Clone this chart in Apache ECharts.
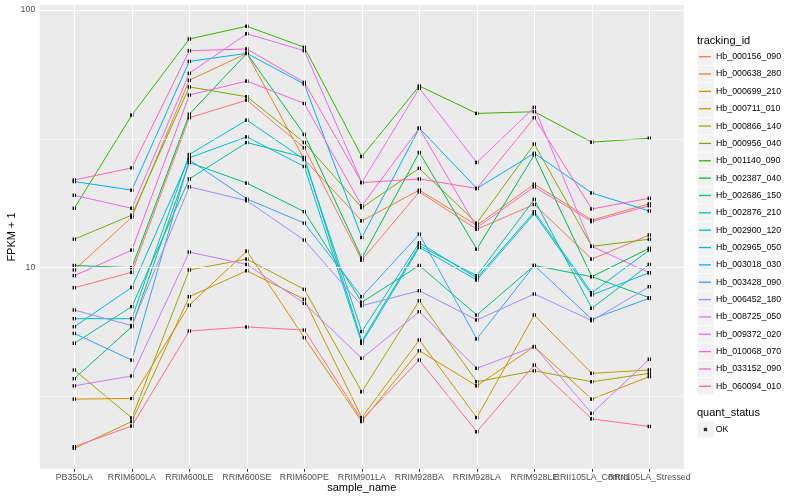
<!DOCTYPE html>
<html>
<head>
<meta charset="utf-8">
<script src="https://cdn.jsdelivr.net/npm/echarts@6/dist/echarts.min.js"></script>
<style>html,body{margin:0;padding:0;background:#fff}#c{width:800px;height:500px}</style>
</head>
<body>
<div id="c"></div>
<script>
const categories = ["PB350LA","RRIM600LA","RRIM600LE","RRIM600SE","RRIM600PE","RRIM901LA","RRIM928BA","RRIM928LA","RRIM928LE","RRII105LA_Control","RRII105LA_Stressed"];
const trackingIds = ["Hb_000156_090","Hb_000638_280","Hb_000699_210","Hb_000711_010","Hb_000866_140","Hb_000956_040","Hb_001140_090","Hb_002387_040","Hb_002686_150","Hb_002876_210","Hb_002900_120","Hb_002965_050","Hb_003018_030","Hb_003428_090","Hb_006452_180","Hb_008725_050","Hb_009372_020","Hb_010068_070","Hb_033152_090","Hb_060094_010"];
const colors = ["#F8766D","#EA8331","#D89000","#C09B00","#A3A500","#7CAE00","#39B600","#00BB4E","#00BF7D","#00C1A3","#00BFC4","#00BAE0","#00B0F6","#35A2FF","#9590FF","#C77CFF","#E76BF3","#FA62DB","#FF62BC","#FF6C91"];

const Hb_000156_090 = [8.36, 9.60, 38.2, 44.7, 29.2, 10.7, 19.7, 14.1, 17.6, 10.8, 13.4];
const Hb_000638_280 = [9.80, 15.7, 53.4, 67.9, 26.3, 15.2, 20.0, 14.6, 21.1, 15.3, 17.7];
const Hb_000699_210 = [3.09, 3.11, 7.15, 11.6, 5.35, 2.53, 4.76, 3.48, 4.94, 3.09, 3.78];
const Hb_000711_010 = [1.99, 2.53, 7.72, 9.73, 7.54, 2.62, 5.24, 2.62, 6.55, 3.89, 4.01];
const Hb_000866_140 = [4.01, 2.61, 9.80, 10.8, 8.24, 3.30, 7.45, 3.61, 3.98, 3.61, 3.89];
const Hb_000956_040 = [12.9, 16.0, 50.3, 46.1, 30.6, 17.1, 24.3, 14.9, 30.2, 12.1, 12.9];
const Hb_001140_090 = [17.0, 39.1, 77.2, 86.5, 71.7, 27.0, 50.7, 39.7, 40.3, 30.7, 31.8];
const Hb_002387_040 = [10.2, 10.0, 39.4, 67.9, 32.9, 10.9, 28.0, 11.8, 27.4, 9.23, 11.9];
const Hb_002686_150 = [3.71, 5.90, 25.6, 21.3, 16.5, 7.34, 10.2, 6.55, 10.2, 9.23, 7.65];
const Hb_002876_210 = [5.09, 7.06, 22.1, 30.6, 26.8, 5.19, 12.2, 9.31, 18.4, 6.96, 10.3];
const Hb_002900_120 = [6.34, 6.34, 27.5, 37.4, 26.3, 5.65, 12.5, 9.12, 16.5, 8.00, 11.7];
const Hb_002965_050 = [5.90, 8.39, 26.7, 32.2, 24.7, 5.09, 12.0, 8.96, 16.2, 7.84, 9.56];
const Hb_003018_030 = [21.6, 20.0, 63.2, 67.9, 51.6, 13.1, 34.8, 20.3, 27.8, 19.5, 16.6];
const Hb_003428_090 = [5.56, 4.38, 26.2, 18.5, 14.9, 7.72, 13.5, 5.29, 10.2, 6.31, 7.61];
const Hb_006452_180 = [6.85, 5.96, 20.6, 18.2, 12.8, 7.12, 8.14, 6.27, 7.91, 6.23, 8.44];
const Hb_008725_050 = [3.48, 3.80, 11.5, 10.3, 7.27, 4.45, 6.75, 4.07, 4.94, 2.72, 4.41];
const Hb_009372_020 = [19.1, 17.0, 56.8, 80.9, 69.5, 21.4, 49.7, 25.6, 41.9, 12.1, 9.56];
const Hb_010068_070 = [9.31, 11.7, 46.8, 53.0, 43.4, 17.4, 34.8, 14.3, 20.6, 15.1, 17.4];
const Hb_033152_090 = [21.9, 24.4, 69.5, 70.6, 52.4, 21.4, 22.1, 20.3, 38.2, 16.9, 18.6];
const Hb_060094_010 = [2.02, 2.43, 5.68, 5.89, 5.73, 2.57, 4.38, 2.31, 4.19, 2.59, 2.42];

const seriesValues = [Hb_000156_090, Hb_000638_280, Hb_000699_210, Hb_000711_010, Hb_000866_140,
  Hb_000956_040, Hb_001140_090, Hb_002387_040, Hb_002686_150, Hb_002876_210, Hb_002900_120,
  Hb_002965_050, Hb_003018_030, Hb_003428_090, Hb_006452_180, Hb_008725_050, Hb_009372_020,
  Hb_010068_070, Hb_033152_090, Hb_060094_010];

const yMajorBreaks = [10, 100];
const yMinorBreaks = [3.162, 31.62];
const yLimits = [1.655, 104.6];
const quantStatus = ["OK"];

const FONT = 'Liberation Sans, Arial, sans-serif';
const catIdx = categories.map((c, i) => i);

const chart = echarts.init(document.getElementById('c'), null, {renderer: 'canvas'});

const lineSeries = trackingIds.map((id, i) => ({
  name: id,
  type: 'line',
  xAxisIndex: 0, yAxisIndex: 0,
  data: seriesValues[i].map((v, j) => [j, v]),
  symbol: 'rect',
  symbolSize: 3.4,
  showAllSymbol: true,
  lineStyle: {color: colors[i], width: 1},
  itemStyle: {color: '#000', borderWidth: 0},
  emphasis: {disabled: true},
  z: 3,
  animation: false
}));

const gridLines = [].concat(
  yMinorBreaks.map(v => ({yAxis: v, lineStyle: {color: '#fff', width: 0.55, type: 'solid'}})),
  yMajorBreaks.map(v => ({yAxis: v, lineStyle: {color: '#fff', width: 1.1, type: 'solid'}})),
  catIdx.map(v => ({xAxis: v, lineStyle: {color: '#fff', width: 1.1, type: 'solid'}}))
);

const keyBoxes = trackingIds.map((id, i) => ({
  type: 'rect', z: 0,
  shape: {x: 697.5, y: 48.4 + i * 17.35, width: 16.3, height: 16.5},
  style: {fill: '#F2F2F2'}
}));

chart.setOption({
  animation: false,
  backgroundColor: '#fff',
  grid: [
    {left: 39.8, right: 116.2, top: 5, bottom: 31, show: true, backgroundColor: '#EBEBEB', borderWidth: 0, outerBoundsMode: 'none', containLabel: false},
    {left: 45.55, right: 121.95, top: 5, bottom: 31, show: false, outerBoundsMode: 'none', containLabel: false}
  ],
  xAxis: [{
    type: 'value', gridIndex: 0, min: -0.6, max: 10.6,
    axisLine: {show: false}, splitLine: {show: false},
    axisTick: {show: false}, axisLabel: {show: false}
  }, {
    type: 'category', gridIndex: 1, data: categories, boundaryGap: true,
    axisLine: {show: false}, splitLine: {show: false},
    axisTick: {show: true, alignWithLabel: true, length: 2.75, lineStyle: {color: '#333', width: 1}},
    axisLabel: {interval: 0, color: '#4d4d4d', fontSize: 8.8, fontFamily: FONT, margin: 4.5, hideOverlap: false},
    name: 'sample_name', nameLocation: 'middle', nameGap: 13, nameMoveOverlap: false,
    nameTextStyle: {color: '#000', fontSize: 11, fontFamily: FONT}
  }],
  yAxis: [{
    type: 'log', gridIndex: 0, logBase: 10, min: yLimits[0], max: yLimits[1],
    axisLine: {show: false},
    splitLine: {show: false},
    minorSplitLine: {show: false},
    axisTick: {show: true, customValues: yMajorBreaks, length: 2.75, lineStyle: {color: '#333', width: 1}},
    axisLabel: {customValues: yMajorBreaks, color: '#4d4d4d', fontSize: 8.8, fontFamily: FONT, margin: 4.5},
    name: 'FPKM + 1', nameLocation: 'middle', nameGap: 22, nameMoveOverlap: false,
    nameTextStyle: {color: '#000', fontSize: 11, fontFamily: FONT}
  }, {
    type: 'value', gridIndex: 1, show: false
  }],
  legend: [{
    orient: 'vertical', left: 699, top: 48, padding: 0, itemGap: 0,
    itemWidth: 12, itemHeight: 1.3, icon: 'rect', selectedMode: false,
    textStyle: {fontSize: 8.8, color: '#000', fontFamily: FONT, lineHeight: 17.35},
    data: trackingIds.map((id, i) => ({name: id, itemStyle: {color: colors[i]}}))
  }, {
    orient: 'vertical', left: 703.8, top: 421.5, padding: 0, itemGap: 0,
    itemWidth: 3.4, itemHeight: 3.4, icon: 'rect', selectedMode: false,
    textStyle: {fontSize: 8.8, color: '#000', fontFamily: FONT, lineHeight: 16, padding: [0, 0, 0, 3.5]},
    data: quantStatus.map(q => ({name: q, itemStyle: {color: '#000'}}))
  }],
  graphic: [].concat(keyBoxes, [
    {type: 'rect', z: 0, shape: {x: 697.5, y: 421.5, width: 16.3, height: 16}, style: {fill: '#F2F2F2'}},
    {type: 'text', z: 0, x: 697, y: 40.7, style: {text: 'tracking_id', fontSize: 11, fontFamily: FONT, fill: '#000', verticalAlign: 'middle'}},
    {type: 'text', z: 0, x: 697, y: 412.7, style: {text: 'quant_status', fontSize: 11, fontFamily: FONT, fill: '#000', verticalAlign: 'middle'}}
  ]),
  series: [{
    type: 'line', name: '_grid', data: [], silent: true, z: 1, xAxisIndex: 0, yAxisIndex: 0,
    markLine: {silent: true, symbol: ['none', 'none'], label: {show: false}, animation: false, data: gridLines}
  }].concat(lineSeries, [{
    type: 'scatter', name: 'OK', data: [], symbol: 'rect', itemStyle: {color: '#000'}, xAxisIndex: 0, yAxisIndex: 0
  }])
});
</script>
</body>
</html>
